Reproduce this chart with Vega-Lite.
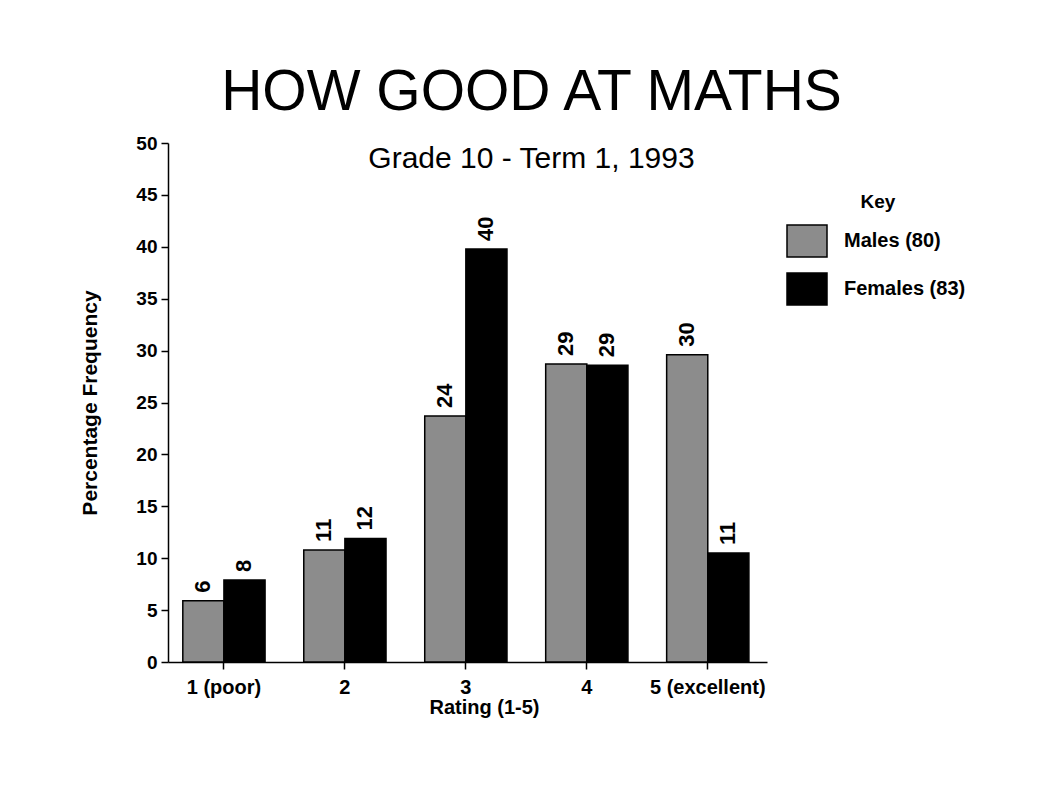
{
  "$schema": "https://vega.github.io/schema/vega-lite/v6.json",
  "width": 599,
  "height": 519,
  "autosize": {"type": "none"},
  "padding": {"left": 168, "top": 143, "right": 270, "bottom": 135},
  "background": "white",
  "config": {
    "font": "Liberation Sans",
    "view": {"stroke": null},
    "axis": {"domainColor": "black", "tickColor": "black", "labelColor": "black", "titleColor": "black", "domainWidth": 1.5, "tickWidth": 1.5, "grid": false}
  },
  "title": {
    "text": "HOW GOOD AT MATHS",
    "subtitle": "Grade 10 - Term 1, 1993",
    "font": "Liberation Sans",
    "fontSize": 57,
    "fontWeight": "normal",
    "color": "black",
    "subtitleFont": "Liberation Sans",
    "subtitleFontSize": 30,
    "subtitleColor": "black",
    "anchor": "middle",
    "dx": 64,
    "offset": -41,
    "subtitlePadding": 22
  },
  "data": {
    "values": [
      {"rating": "1 (poor)", "gender": "Males (80)", "value": 5.9, "label": "6"},
      {"rating": "1 (poor)", "gender": "Females (83)", "value": 7.9, "label": "8"},
      {"rating": "2", "gender": "Males (80)", "value": 10.8, "label": "11"},
      {"rating": "2", "gender": "Females (83)", "value": 11.9, "label": "12"},
      {"rating": "3", "gender": "Males (80)", "value": 23.7, "label": "24"},
      {"rating": "3", "gender": "Females (83)", "value": 39.8, "label": "40"},
      {"rating": "4", "gender": "Males (80)", "value": 28.7, "label": "29"},
      {"rating": "4", "gender": "Females (83)", "value": 28.6, "label": "29"},
      {"rating": "5 (excellent)", "gender": "Males (80)", "value": 29.6, "label": "30"},
      {"rating": "5 (excellent)", "gender": "Females (83)", "value": 10.5, "label": "11"}
    ]
  },
  "encoding": {
    "x": {
      "field": "rating",
      "type": "nominal",
      "sort": ["1 (poor)", "2", "3", "4", "5 (excellent)"],
      "scale": {"paddingInner": 0.32, "paddingOuter": 0.136, "align": 0.45},
      "axis": {
        "title": "Rating (1-5)",
        "labelAngle": 0,
        "labelFontSize": 20,
        "labelFontWeight": "bold",
        "labelPadding": 8,
        "tickSize": 7,
        "titleFontSize": 20,
        "titleFontWeight": "bold",
        "titlePadding": 0,
        "titleX": 316
      }
    },
    "xOffset": {"field": "gender", "type": "nominal", "sort": ["Males (80)", "Females (83)"]},
    "y": {
      "field": "value",
      "type": "quantitative",
      "scale": {"domain": [0, 50], "nice": false},
      "axis": {
        "title": "Percentage Frequency",
        "values": [0, 5, 10, 15, 20, 25, 30, 35, 40, 45, 50],
        "labelFontSize": 19,
        "labelFontWeight": "bold",
        "labelPadding": 4,
        "tickSize": 7,
        "titleFontSize": 21,
        "titleFontWeight": "bold",
        "titlePadding": 35
      }
    }
  },
  "layer": [
    {
      "mark": {"type": "bar", "stroke": "black", "strokeWidth": 1.5},
      "encoding": {
        "fill": {
          "field": "gender",
          "type": "nominal",
          "sort": ["Males (80)", "Females (83)"],
          "scale": {"domain": ["Males (80)", "Females (83)"], "range": ["#8c8c8c", "#000000"]},
          "legend": {
            "title": "Key",
            "orient": "none",
            "legendX": 622,
            "legendY": 50,
            "titleFontSize": 19,
            "titleFontWeight": "bold",
            "titleColor": "black",
            "titleAnchor": "middle",
            "titlePadding": 12,
            "labelFontSize": 20,
            "labelFontWeight": "bold",
            "labelColor": "black",
            "labelOffset": 20,
            "symbolType": "M-1.25,-1H1.25V1H-1.25Z",
            "symbolSize": 1024,
            "symbolStrokeColor": "black",
            "symbolStrokeWidth": 1.5,
            "symbolOpacity": 1,
            "rowPadding": 10
          }
        }
      }
    },
    {
      "mark": {"type": "text", "angle": 270, "align": "left", "baseline": "middle", "dx": 8, "fontSize": 22, "fontWeight": "bold", "color": "black"},
      "encoding": {"text": {"field": "label", "type": "nominal"}}
    }
  ]
}
